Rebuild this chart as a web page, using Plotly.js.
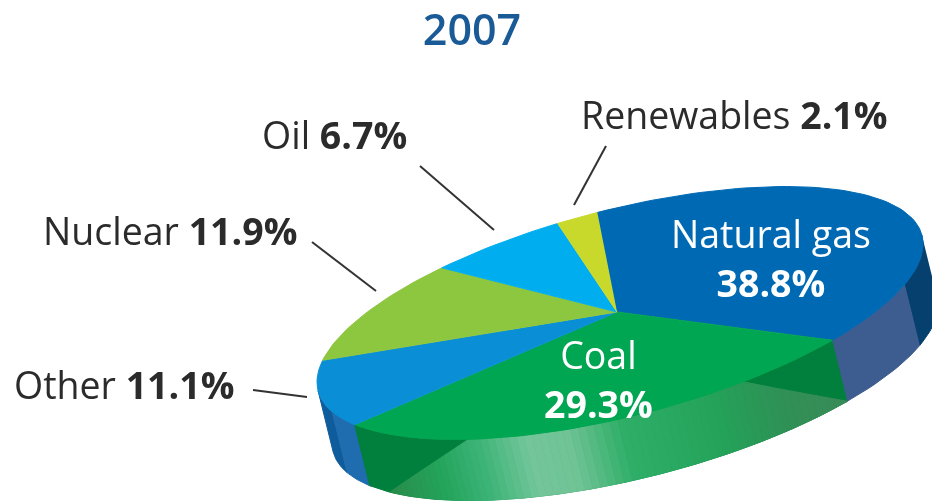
<!DOCTYPE html>
<html>
<head>
<meta charset="utf-8">
<script src="https://cdn.plot.ly/plotly-3.0.1.min.js"></script>
<style>html,body{margin:0;padding:0;background:#fff}#chart{width:932px;height:503px;filter:blur(0.7px)}</style>
</head>
<body>
<div id="chart"></div>
<script>
// Data, clockwise from the Natural gas slice
const categories = ["Natural gas", "Coal", "Other", "Nuclear", "Oil", "Renewables"];
const shares = [38.8, 29.3, 11.1, 11.9, 6.7, 2.1];
const topColors = ["#0069b4", "#00a651", "#0a8fd6", "#8dc63f", "#00aeef", "#c9d92b"];
const chartTitle = "2007";

// Projection of the tilted disc into pixel-valued axes
const cx = 620, cy = 313, ax = 303, cross = -69, ay = 106, dx = 15, dy = 61;
const startDeg = -94.3;
const rad = d => d * Math.PI / 180;
const top_ = d => [cx + ax * Math.cos(rad(d)), cy + cross * Math.cos(rad(d)) + ay * Math.sin(rad(d))];
const bot_ = d => { const p = top_(d); return [p[0] + dx, p[1] + dy]; };
const range = (a, b, n) => { const r = []; for (let i = 0; i <= n; i++) r.push(a + (b - a) * i / n); return r; };

const total = shares.reduce((a, b) => a + b, 0);
const edges = [startDeg];
shares.forEach(v => edges.push(edges[edges.length - 1] + v / total * 360));

const traces = [];
function poly(pts, color) {
  traces.push({
    type: "scatter", mode: "lines", x: pts.map(p => p[0]), y: pts.map(p => p[1]),
    fill: "toself", fillcolor: color, line: { color: color, width: 1 },
    hoverinfo: "skip", showlegend: false
  });
}
function band(a, b, color) {
  const ts = range(a, b, 16);
  poly(ts.map(top_).concat(ts.slice().reverse().map(bot_)), color);
}
// --- side wall ---
const gasEnd = edges[1], coalEnd = edges[2];
const hex = c => [1, 3, 5].map(i => parseInt(c.substr(i, 2), 16));
const mix = (c1, c2, f) => { const a = hex(c1), b = hex(c2); return "rgb(" + a.map((v, i) => Math.round(v + (b[i] - v) * f)).join(",") + ")"; };

band(-5, 20, "#06406f");
band(20, gasEnd + 0.5, "#3d5c8f");
band(coalEnd - 0.5, 162, "#1f6cae");
band(162, 175, "#0f5c9c");
band(gasEnd, coalEnd, "#00803c");

// lighter sheen on the coal wall
const sheenStops = [[45, "#3b8a57"], [60, "#2f9156"], [72, "#24a25a"], [90, "#2fae68"], [100, "#6fc395"], [108, "#74c69a"], [118, "#3db478"], [128, "#24a45c"], [144, "#2a8a4a"]];
const liftA = [gasEnd, 66], liftB = [120, 144];
function upper(t) {
  const T = top_(t), B = bot_(t);
  let f = 1;
  if (t < liftA[1]) f = (t - liftA[0]) / (liftA[1] - liftA[0]);
  if (t > liftB[0]) f = (liftB[1] - t) / (liftB[1] - liftB[0]);
  f = Math.max(0, Math.min(1, f));
  return [B[0] + (T[0] - B[0]) * f, B[1] + (T[1] - B[1]) * f];
}
function sheenColor(t) {
  for (let i = 0; i < sheenStops.length - 1; i++) {
    const s = sheenStops[i], e = sheenStops[i + 1];
    if (t <= e[0]) return mix(s[1], e[1], Math.max(0, (t - s[0]) / (e[0] - s[0])));
  }
  return sheenStops[sheenStops.length - 1][1];
}
const step = 1.5;
for (let t = gasEnd; t < 144; t += step) {
  const e = Math.min(t + step, 144);
  const ts = range(t, e, 2);
  poly(ts.map(upper).concat(ts.slice().reverse().map(bot_)), sheenColor((t + e) / 2));
}
// --- top face slices ---
categories.forEach((c, i) => {
  const ts = range(edges[i], edges[i + 1], Math.max(8, Math.round(shares[i] * 2)));
  poly([[cx - 3, cy - 1]].concat(ts.map(top_)), topColors[i]);
});

const fam = '"Open Sans", sans-serif';
const note = (text, x, y, anchor, color) => ({
  text, x, y, xref: "x", yref: "y", xanchor: anchor, yanchor: "middle",
  showarrow: false, font: { family: fam, size: 37.5, color }
});
const dark = "#2b2b2b";
const annotations = [
  note("Renewables <b>" + shares[5] + "%</b>", 579, 114, "left", dark),
  note("Oil <b>" + shares[4] + "%</b>", 260, 134, "left", dark),
  note("Nuclear <b>" + shares[3] + "%</b>", 41, 230, "left", dark),
  note("Other <b>" + shares[2] + "%</b>", 12, 384, "left", dark),
  note("Natural gas<br><b>" + shares[0].toFixed(1) + "%</b>", 771, 258, "center", "#ffffff"),
  note("Coal<br><b>" + shares[1] + "%</b>", 598, 379, "center", "#ffffff")
];
const leader = (x0, y0, x1, y1) => ({ type: "line", xref: "x", yref: "y", x0, y0, x1, y1, line: { color: "#333333", width: 2 } });
const shapes = [
  leader(606, 146, 574, 205),
  leader(420, 166, 494, 230),
  leader(312, 242, 376, 291),
  leader(253, 390, 307, 397)
];

Plotly.newPlot("chart", traces, {
  width: 932, height: 503,
  margin: { l: 0, r: 0, t: 0, b: 0 },
  paper_bgcolor: "#ffffff", plot_bgcolor: "#ffffff",
  showlegend: false, hovermode: false,
  title: { text: chartTitle, x: 472 / 932, xanchor: "center", y: 1 - 30 / 503, yanchor: "middle", font: { family: fam, size: 43, weight: 600, color: "#1a5a96" } },
  xaxis: { range: [0, 932], visible: false, fixedrange: true },
  yaxis: { range: [503, 0], visible: false, fixedrange: true },
  annotations, shapes
}, { displayModeBar: false, staticPlot: true });
</script>
</body>
</html>
